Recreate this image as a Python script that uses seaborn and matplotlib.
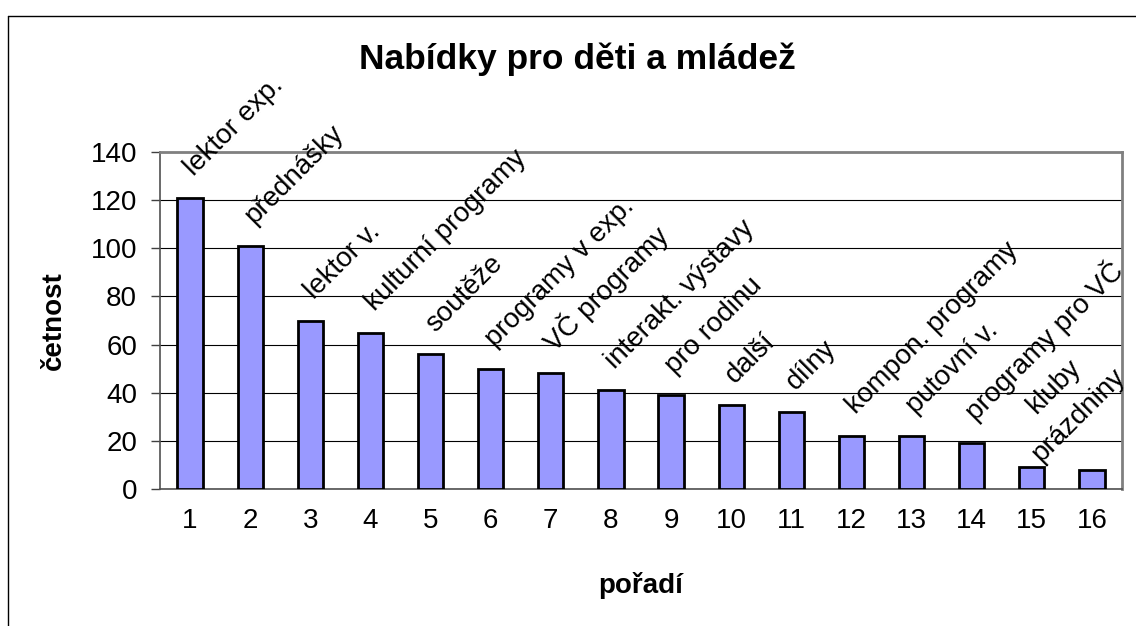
import matplotlib
matplotlib.use("Agg")
import matplotlib.pyplot as plt
from matplotlib.lines import Line2D
from matplotlib.ticker import FixedLocator
import seaborn as sns

# data
ranks = [str(i) for i in range(1, 17)]
counts = [121, 101, 70, 65, 56, 50, 48, 41, 39, 35, 32, 22, 22, 19, 9, 8]
names = ["lektor exp.", "přednášky", "lektor v.", "kulturní programy", "soutěže",
         "programy v exp.", "VČ programy", "interakt. výstavy", "pro rodinu", "další",
         "dílny", "kompon. programy", "putovní v.", "programy pro VČ", "kluby", "prázdniny"]
y_ticks = [0, 20, 40, 60, 80, 100, 120, 140]

title = "Nabídky pro děti a mládež"
x_label = "pořadí"
y_label = "četnost"

sns.set_style("white")
plt.rcParams["font.family"] = ["Liberation Sans", "DejaVu Sans"]
plt.rcParams["text.color"] = "black"
plt.rcParams["axes.labelcolor"] = "black"
plt.rcParams["xtick.labelcolor"] = "black"
plt.rcParams["ytick.labelcolor"] = "black"

FS = 20
W, H = 1136, 626
fig = plt.figure(figsize=(W / 100, H / 100), dpi=100)
left, right, top, bottom = 160, 1122, 152, 489
ax = fig.add_axes([left / W, 1 - bottom / H, (right - left) / W, (bottom - top) / H])

sns.barplot(x=ranks, y=counts, color="#9999FF", saturation=1, edgecolor="black",
            linewidth=2, width=0.42, ax=ax, zorder=3)

ax.set_xlim(-0.5, len(ranks) - 0.5)
ax.set_ylim(0, 140)
ax.set_yticks(y_ticks)
ax.yaxis.grid(True, color="black", linewidth=0.8, zorder=0)
ax.set_axisbelow(True)

# excel-like ticks: numbers under bars, tick marks between categories
ax.tick_params(axis="x", which="major", length=0, pad=14, labelsize=FS)
ax.xaxis.set_minor_locator(FixedLocator([i - 0.5 for i in range(len(ranks) + 1)]))
ax.tick_params(axis="x", which="minor", length=6.5, width=1, color="#404040", direction="out")
ax.tick_params(axis="y", length=6.5, width=1, color="#404040", direction="out",
               pad=10, labelsize=FS, left=True)

for side in ["top", "right"]:
    ax.spines[side].set_color("#808080")
    ax.spines[side].set_linewidth(2)
for side in ["left", "bottom"]:
    ax.spines[side].set_color("#505050")
    ax.spines[side].set_linewidth(1.2)

ax.set_xlabel(x_label, fontsize=FS, fontweight="bold")
ax.set_ylabel(y_label, fontsize=FS, fontweight="bold")
ax.xaxis.set_label_coords(0.5, -0.245)
ax.yaxis.set_label_coords(-0.097, 0.5)

# rotated category names above the bars
labels = []
for i, (val, name) in enumerate(zip(counts, names)):
    t = ax.annotate(name, xy=(i, val), xytext=(3, 15), textcoords="offset points",
                    rotation=45, rotation_mode="anchor", ha="left", va="baseline",
                    fontsize=FS, annotation_clip=False)
    labels.append(t)

PX = 72 / 100  # pixels -> points

# like the original: labels running off the right edge are pushed left/down,
# and the neighbour before them is lifted so the two do not collide
fig.canvas.draw()
renderer = fig.canvas.get_renderer()
for t in labels:
    over = t.get_window_extent(renderer).x1 - (W - 6)
    if over > 0:
        dx, dy = t.xyann
        t.xyann = (dx - over * PX, dy - over / 4 * PX)


def diag(t):
    # position of the label's 45-degree line (x + y in screen pixels, y down)
    x, y = ax.transData.transform(t.xy)
    dx, dy = t.xyann
    return (x + dx / PX) + (H - y - dy / PX)


min_gap = 53
for i in range(len(labels) - 2, -1, -1):
    gap = diag(labels[i + 1]) - diag(labels[i])
    if gap < min_gap:
        dx, dy = labels[i].xyann
        labels[i].xyann = (dx, dy + (min_gap - gap) * PX)

fig.text(0.508, 1 - 69 / H, title, ha="center", va="baseline",
         fontsize=25.5, fontweight="bold")

# chart frame (cut off on the right and bottom in the reference)
fig.add_artist(Line2D([8 / W, 8 / W], [1 - 16 / H, 0], color="black", linewidth=1))
fig.add_artist(Line2D([8 / W, 1], [1 - 16 / H, 1 - 16 / H], color="black", linewidth=1))

fig.savefig("out.png", dpi=100)
